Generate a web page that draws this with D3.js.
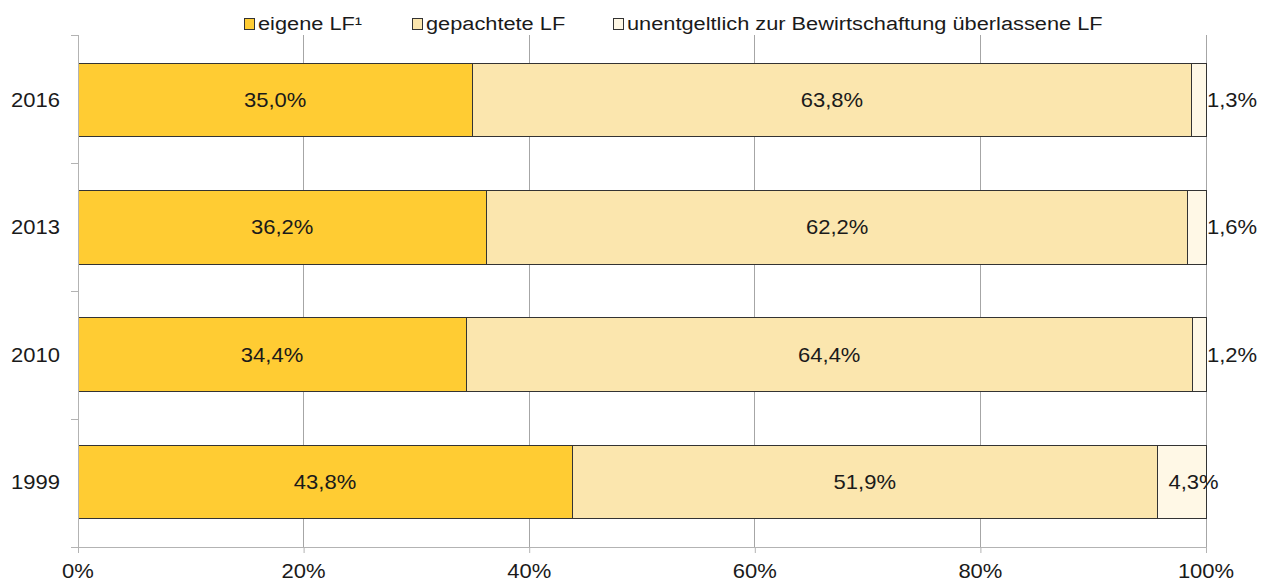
<!DOCTYPE html>
<html><head><meta charset="utf-8">
<script src="https://cdn.jsdelivr.net/npm/d3@7"></script>
<style>body{margin:0;background:#fff}svg{display:block}svg text{font-family:"Liberation Sans",Arial,sans-serif}</style>
</head><body>
<svg id="c" width="1265" height="588"></svg>
<script>
const years = ["2016", "2013", "2010", "1999"];
const seriesNames = ["eigene LF¹", "gepachtete LF", "unentgeltlich zur Bewirtschaftung überlassene LF"];
const eigene = [35.0, 36.2, 34.4, 43.8];
const gepachtet = [63.8, 62.2, 64.4, 51.9];
const unentgeltlich = [1.3, 1.6, 1.2, 4.3];
const xTicks = [0, 0.2, 0.4, 0.6, 0.8, 1.0];
const colors = ["#FFCC33", "#FBE6AE", "#FFF8E6"];

const svg = d3.select("#c");
const L = 78, R = 1206, T = 35, B = 547;
const SX = 1.1; // horizontal stretch of the reference's text
const rows = years.map((y, i) => ({year: y, s0: eigene[i], s1: gepachtet[i], s2: unentgeltlich[i]}));
const stack = d3.stack().keys(["s0", "s1", "s2"]).offset(d3.stackOffsetExpand);
const stacked = stack(rows);

const x = d3.scaleLinear().domain([0, 1]).range([L, R]);
const y = d3.scaleBand().domain(years).range([T, B]).paddingInner(0.42).paddingOuter(0.22);
const band = d3.scaleBand().domain(years).range([T, B]);

function txt(sel, px, py, s, size, anchor, sx) {
  return sel.append("text").attr("transform", `translate(${px},${py}) scale(${sx || SX},1)`)
    .attr("font-size", size).attr("fill", "#1a1a1a").attr("text-anchor", anchor || "start").text(s);
}

// gridlines
svg.append("g").selectAll("line").data(xTicks.slice(1)).join("line")
  .attr("x1", d => x(d)).attr("x2", d => x(d)).attr("y1", T).attr("y2", B)
  .attr("stroke", "#a6a6a6").attr("stroke-width", 1).attr("shape-rendering", "crispEdges");

// bars
const g = svg.append("g");
stacked.forEach((s, si) => {
  g.selectAll(null).data(s).join("rect")
    .attr("x", d => x(d[0])).attr("width", d => x(d[1]) - x(d[0]))
    .attr("y", d => y(d.data.year)).attr("height", y.bandwidth())
    .attr("fill", colors[si]).attr("stroke", "#333").attr("stroke-width", 1)
    .attr("shape-rendering", "crispEdges");
});

// axes
const xAxis = d3.axisBottom(x).tickValues(xTicks).tickFormat("").tickSize(6).tickSizeOuter(0);
const xg = svg.append("g").attr("transform", `translate(0,${B})`).call(xAxis);
xg.select(".domain").attr("stroke", "#b3b3b3").attr("d", `M${L - 7},0.5H${R}`);
xg.selectAll(".tick line").attr("stroke", "#b3b3b3");
xTicks.forEach(t => txt(svg, x(t), 578, Math.round(t * 100) + "%", 20, "middle"));

const yg = svg.append("g");
yg.append("line").attr("x1", L + 0.5).attr("x2", L + 0.5).attr("y1", T).attr("y2", B + 6).attr("stroke", "#b3b3b3");
yg.selectAll("line.t").data(years).join("line").attr("class", "t")
  .attr("x1", L - 7).attr("x2", L).attr("y1", d => band(d) + 0.5).attr("y2", d => band(d) + 0.5).attr("stroke", "#b3b3b3");
years.forEach(d => txt(yg, 60, y(d) + y.bandwidth() / 2 + 7, d, 20, "end"));

// value labels
const fmt = v => v.toFixed(1).replace(".", ",") + "%";
const lab = svg.append("g");
const vals = [eigene, gepachtet, unentgeltlich];
stacked.forEach((s, si) => {
  s.forEach((d, i) => {
    const x0 = x(d[0]), x1 = x(d[1]);
    const cy = y(d.data.year) + y.bandwidth() / 2 + 7;
    if (si < 2) txt(lab, (x0 + x1) / 2, cy, fmt(vals[si][i]), 20, "middle");
    else txt(lab, (x1 - x0) > 30 ? x0 + 11 : x1 + 1, cy, fmt(vals[si][i]), 20, "start");
  });
});

// legend
const legX = [244, 412, 613];
const leg = svg.append("g");
seriesNames.forEach((n, i) => {
  leg.append("rect").attr("x", legX[i] + 0.5).attr("y", 18.5).attr("width", 10).attr("height", 11)
    .attr("fill", colors[i]).attr("stroke", "#333");
  txt(leg, legX[i] + 14, 30, n, 18, "start", 1.21);
});
</script>
</body></html>
